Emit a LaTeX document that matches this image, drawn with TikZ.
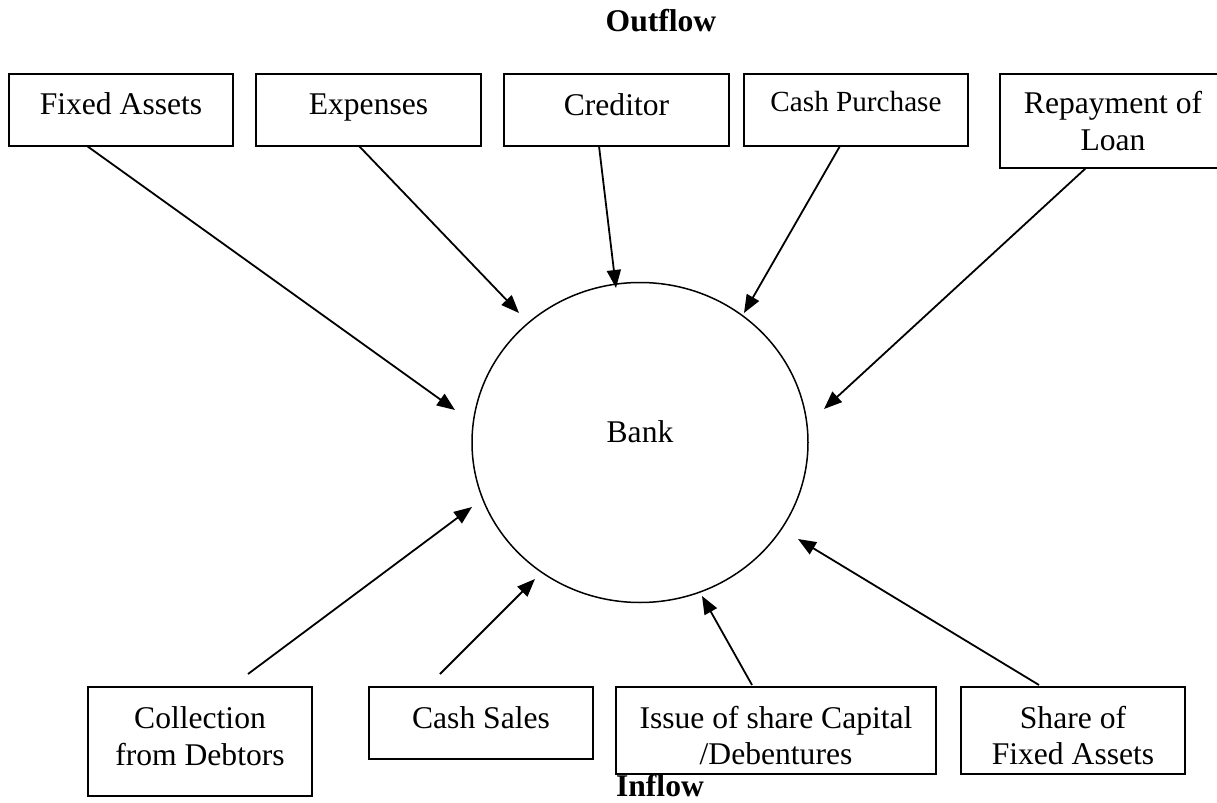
\documentclass[tikz,border=0pt]{standalone}
\usepackage{fontspec}
\setmainfont{Liberation Serif}
\usetikzlibrary{arrows.meta,calc,shapes.geometric}
\begin{document}
\begin{tikzpicture}[x=0.5pt,y=-0.5pt,
  box/.style={draw, line width=0.65pt, rectangle, inner sep=0pt, outer sep=0pt,
    font=\fontsize{15.8}{18}\selectfont},
  txt/.style={anchor=base, inner sep=0pt, font=\fontsize{15.8}{18}\selectfont},
  head/.style={anchor=base, inner sep=0pt, font=\fontsize{15.8}{18}\selectfont\bfseries},
  flow/.style={line width=0.9pt, -{Triangle[length=9pt,width=7pt]}}]
\useasboundingbox (0,0) rectangle (1217,803);

% headings
\node[head] (outflow) at (661,32) {Outflow};
\node[head] (inflow) at (660,796) {Inflow};

% bank
\node[ellipse, draw, line width=0.75pt, minimum width=168pt, minimum height=160pt,
  inner sep=0pt, outer sep=0pt, text height=6pt, text depth=6pt,
  font=\fontsize{15.8}{18}\selectfont] (bank) at (640,442.5) {Bank};

% outflow boxes
\node[box, minimum width=112pt, minimum height=36pt, text height=10pt, text depth=6pt] (fa) at (121,110) {Fixed Assets};
\node[box, minimum width=112.5pt, minimum height=36pt, text height=10pt, text depth=6pt] (ex) at (368.5,110) {Expenses};
\node[box, minimum width=112.5pt, minimum height=36pt, text height=10.5pt, text depth=5.5pt] (cr) at (616.5,110) {Creditor};
\node[box, minimum width=112pt, minimum height=36pt, text height=8.9pt, text depth=7.1pt,
  font=\fontsize{14.6}{17}\selectfont] (cp) at (856,110) {Cash Purchase};
\node[box, minimum width=112pt, minimum height=47pt] (rl) at (1112,121) {};
\node[txt] (rl1) at (1113,113) {Repayment of};
\node[txt] (rl2) at (1113,150) {Loan};

% inflow boxes
\node[box, minimum width=112pt, minimum height=54.5pt] (co) at (200,741.5) {};
\node[txt] (co1) at (200,728) {Collection};
\node[txt] (co2) at (200,765) {from Debtors};
\node[box, minimum width=112pt, minimum height=36pt, text height=10.5pt, text depth=5.5pt] (cs) at (481,723) {Cash Sales};
\node[box, minimum width=160pt, minimum height=43.5pt] (is) at (776,730.5) {};
\node[txt] (is1) at (776,728) {Issue of share Capital};
\node[txt] (is2) at (776,764) {/Debentures};
\node[box, minimum width=112pt, minimum height=43.5pt] (sh) at (1073,730.5) {};
\node[txt] (sh1) at (1073,728) {Share of};
\node[txt] (sh2) at (1073,764) {Fixed Assets};

% arrow tips near bank
\coordinate (t1) at (455,410);
\coordinate (t2) at (519,313);
\coordinate (t3) at (616,288);
\coordinate (t4) at (744,313);
\coordinate (t5) at (824,409);
\coordinate (t6) at (472,507);
\coordinate (t7) at (535,579);
\coordinate (t8) at (702,596);
\coordinate (t9) at (798,539);

% outflow arrows
\draw[flow] ($(fa.south west)+(78,0)$) -- (t1);
\draw[flow] ($(ex.south west)+(103,0)$) -- (t2);
\draw[flow] ($(cr.south west)+(95,0)$) -- (t3);
\draw[flow] ($(cp.south west)+(96,0)$) -- (t4);
\draw[flow] ($(rl.south west)+(86,0)$) -- (t5);

% inflow arrows
\draw[flow] ($(co.north west)+(160,-13)$) -- (t6);
\draw[flow] ($(cs.north west)+(71,-13)$) -- (t7);
\draw[flow] ($(is.north west)+(136,-2)$) -- (t8);
\draw[flow] ($(sh.north west)+(78,-2)$) -- (t9);
\end{tikzpicture}
\end{document}
